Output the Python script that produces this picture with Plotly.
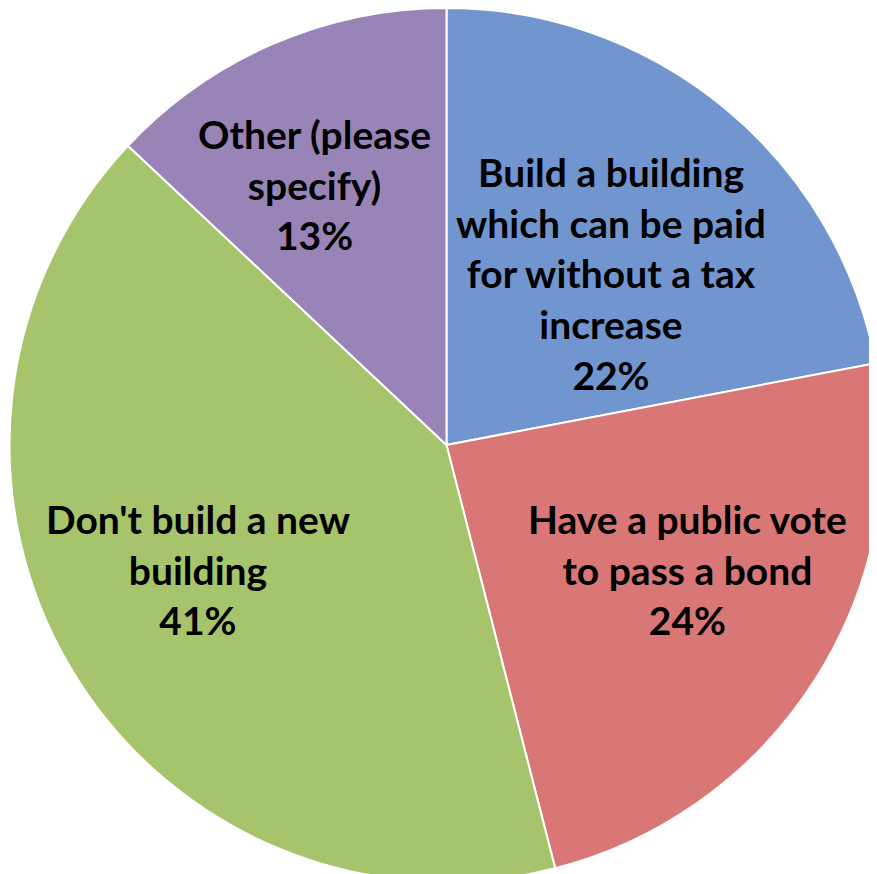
import math
import plotly.graph_objects as go

labels = ["Build a building which can be paid for without a tax increase",
          "Have a public vote to pass a bond",
          "Don't build a new building",
          "Other (please specify)"]
display_labels = ["Build a building<br>which can be paid<br>for without a tax<br>increase",
                  "Have a public vote<br>to pass a bond",
                  "Don't build a new<br>building",
                  "Other (please<br>specify)"]
values = [22, 24, 41, 13]
colors = ["#7196cf", "#d97676", "#a6c46b", "#9884b6"]
label_radius = [0.545, 0.634, 0.655, 0.674]
label_angle_shift = [4.7, -4.3, 3.5, -4.0]

W, H = 877, 874
fig = go.Figure(go.Pie(
    labels=labels, values=values, sort=False, direction="clockwise", rotation=0,
    marker=dict(colors=colors, line=dict(color="white", width=2)),
    textinfo="none", hoverinfo="label+percent", showlegend=False,
    domain=dict(x=[0, 1], y=[0, 1]),
))

total = sum(values)
R = 429
cx, cy = 440, 439
cum = 0
for lab, v, rf, sh in zip(display_labels, values, label_radius, label_angle_shift):
    mid = (cum + v / 2) / total * 2 * math.pi + math.radians(sh)
    cum += v
    px = cx + rf * R * math.sin(mid)
    py_top = cy - rf * R * math.cos(mid) - 6
    pct = round(v / total * 100)
    fig.add_annotation(x=px / W, y=1 - py_top / H, xref="paper", yref="paper",
                       xanchor="center", yanchor="middle",
                       text=f"<b>{lab}<br>{pct}%</b>", showarrow=False,
                       font=dict(family="Lato", size=39, color="black"),
                       align="center")

fig.update_layout(width=W, height=H, margin=dict(l=0, r=0, t=0, b=0),
                  paper_bgcolor="white", plot_bgcolor="white")
fig.write_html("out.html")
